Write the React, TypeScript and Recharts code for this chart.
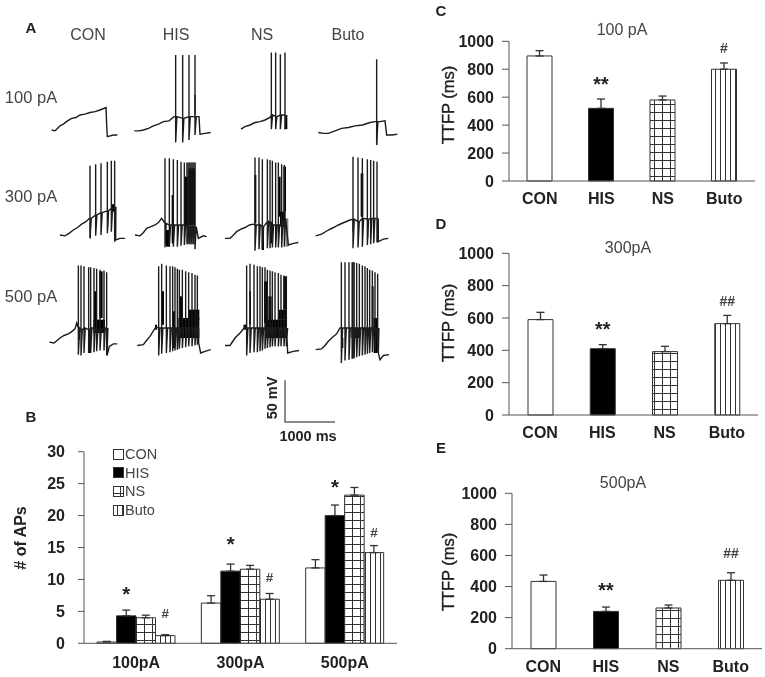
// Whole-cell recordings and summary bars (panels A-E)
import { BarChart, Bar, Cell, ErrorBar, LabelList, Legend, Line, LineChart, ReferenceArea, XAxis, YAxis } from "recharts";

const SANS = '"Liberation Sans", Arial, sans-serif';
const AXIS = "#555";
const INK = "#222";
const BAR_EDGE = "#333";
const TRACE = "#1c1c1c";

const GROUPS = ["CON", "HIS", "NS", "Buto"];
const GROUP_FILLS = ["#fff", "#000", "url(#gridFill)", "url(#stripeFill)"];

// Panel B, number of APs
const CURRENTS = ["100pA", "300pA", "500pA"];
const AP_CON = [0.2, 6.3, 11.8];
const AP_HIS = [4.3, 11.3, 20];
const AP_NS = [4, 11.6, 23.2];
const AP_BUTO = [1.2, 6.9, 14.2];
const AP_CON_ERR = [0.1, 1.15, 1.3];
const AP_HIS_ERR = [0.9, 1.1, 1.65];
const AP_NS_ERR = [0.4, 0.6, 1.2];
const AP_BUTO_ERR = [0.15, 0.9, 1.1];
const AP_HIS_MARK_AT = [8.2, 16, 25];
const AP_BUTO_MARK_AT = [4.7, 10.4, 17.4];

// Panels C-E, TTFP
const TTFP_TICKS = [0, 200, 400, 600, 800, 1000];
const TTFP_100 = [895, 520, 580, 800];
const TTFP_100_ERR = [38, 67, 28, 45];
const TTFP_100_MARKS = ["", "**", "", "#"];
const TTFP_100_MARK_AT = [0, 716, 0, 954];
const TTFP_300 = [590, 410, 392, 565];
const TTFP_300_ERR = [45, 25, 33, 51];
const TTFP_300_MARKS = ["", "**", "", "##"];
const TTFP_300_MARK_AT = [0, 548, 0, 703];
const TTFP_500 = [433, 240, 262, 440];
const TTFP_500_ERR = [41, 28, 19, 49];
const TTFP_500_MARKS = ["", "**", "", "##"];
const TTFP_500_MARK_AT = [0, 395, 0, 613];

// Panel A recordings: ramp and tail are [ms, mV], spikes are [ms, peak, trough, plateau], blobs are [ms1, ms2, mV1, mV2]
const CON_100_RAMP = [[233, -56], [300, -57], [333, -55], [400, -51], [467, -49], [550, -45], [633, -42], [720, -41], [800, -38], [900, -37], [1000, -35], [1100, -34], [1200, -32], [1320, -29], [1333, -50], [1347, -64], [1467, -62], [1547, -62]];
const HIS_100_RAMP = [[87, -57], [180, -57], [267, -56], [370, -54], [467, -51], [570, -49], [667, -46], [780, -45], [880, -40]];
const HIS_100_SPIKES = [[913, 34, -71, -40], [1053, 34, -71, -42], [1180, 34, -68, -40], [1300, 34, -62, -40]];
const HIS_100_TAIL = [[1380, -40], [1400, -61], [1500, -60], [1613, -59]];
const HIS_100_BLOBS = [[1290, 1313, -14, -38]];
const NS_100_RAMP = [[520, -55], [600, -52], [700, -50], [800, -47], [900, -46], [1000, -44], [1100, -41]];
const NS_100_SPIKES = [[1127, 37, -55, -38], [1213, 37, -55, -40], [1307, 35, -55, -38], [1400, 37, -55, -38]];
const NS_100_BLOBS = [[1395, 1447, -38, -55]];
const BUTO_100_RAMP = [[267, -59], [370, -60], [467, -60], [600, -57], [733, -54], [870, -53], [1000, -51], [1150, -50], [1300, -47], [1400, -46]];
const BUTO_100_SPIKES = [[1433, 29, -74, -46]];
const BUTO_100_TAIL = [[1500, -46], [1600, -45], [1633, -62], [1750, -62], [1847, -61]];
const BUTO_100_BLOBS = [[1425, 1445, -54, -74]];

const CON_300_RAMP = [[400, -62], [500, -63], [580, -60], [667, -56], [750, -53], [833, -49], [920, -46], [987, -42]];
const CON_300_SPIKES = [[1000, 21, -66, -42], [1113, 23, -63, -38], [1220, 24, -62, -35], [1347, 26, -60, -33], [1427, 27, -58, -30], [1493, 27, -70, -28]];
const CON_300_TAIL = [[1513, -68], [1600, -66], [1700, -66]];
const CON_300_BLOBS = [[995, 1020, -46, -66], [1340, 1365, -33, -52], [1430, 1490, -25, -34]];
const HIS_300_RAMP = [[100, -62], [200, -63], [270, -59], [333, -54], [420, -52], [500, -50], [570, -47], [633, -42]];
const HIS_300_SPIKES = [[700, 30, -77, -48], [787, 30, -76, -50], [867, 29, -76, -50], [947, 28, -76, -50], [1020, 26, -75, -50], [1087, 25, -74, -50], [1140, 25, -73, -52], [1180, 25, -73, -52], [1220, 25, -73, -52], [1260, 25, -73, -52], [1300, 25, -79, -52]];
const HIS_300_TAIL = [[1367, -66], [1467, -63], [1533, -64]];
const HIS_300_BLOBS = [[720, 800, -56, -76], [833, 880, -14, -72], [1100, 1167, 8, -52], [1167, 1300, 18, -50]];
const HIS_300_GREY = [[1133, 1313, 25, -73]];
const NS_300_RAMP = [[200, -66], [300, -66], [370, -62], [433, -58], [520, -55], [600, -53], [690, -50], [767, -49]];
const NS_300_SPIKES = [[800, 31, -81, -50], [880, 31, -79, -50], [947, 29, -79, -52], [1047, 29, -78, -46], [1100, 28, -78, -48], [1147, 27, -77, -50], [1213, 25, -77, -50], [1267, 25, -77, -50], [1333, 23, -77, -48], [1387, 22, -76, -42]];
const NS_300_TAIL = [[1467, -74], [1567, -72], [1667, -71]];
const NS_300_BLOBS = [[787, 827, 10, -48], [1267, 1313, 8, -40], [1300, 1413, -34, -52], [1367, 1420, 20, -34], [933, 980, -52, -80], [1100, 1147, -46, -72]];
const NS_300_GREY = [[1413, 1467, -42, -76]];
const BUTO_300_RAMP = [[213, -63], [333, -61], [467, -56], [570, -53], [667, -50], [780, -47], [900, -44]];
const BUTO_300_SPIKES = [[960, 32, -78, -43], [1060, 31, -77, -46], [1147, 30, -76, -42], [1247, 29, -74, -43], [1313, 28, -73, -42], [1373, 27, -72, -42], [1440, 26, -71, -42]];
const BUTO_300_TAIL = [[1467, -70], [1567, -67], [1667, -66]];
const BUTO_300_BLOBS = [[1113, 1167, 12, -40], [950, 975, -44, -58], [1240, 1265, -44, -66], [1365, 1385, -44, -70]];

const CON_500_RAMP = [[187, -61], [280, -62], [340, -59], [400, -56], [480, -53], [567, -51], [640, -48], [700, -45], [733, -38]];
const CON_500_SPIKES = [[767, 31, -76, -44], [820, 31, -77, -46], [880, 30, -74, -44], [973, 29, -74, -46], [1013, 29, -74, -44], [1080, 28, -73, -44], [1133, 27, -72, -46], [1200, 26, -71, -46], [1280, 25, -71, -44], [1333, 23, -77, -44]];
const CON_500_TAIL = [[1340, -77], [1387, -66], [1467, -63], [1547, -63]];
const CON_500_BLOBS = [[1080, 1120, 0, -40], [1187, 1253, 24, -32], [1067, 1300, -34, -50], [767, 800, -46, -58], [973, 1013, -50, -74]];
const HIS_500_RAMP = [[147, -65], [267, -64], [330, -59], [400, -54], [460, -48], [520, -43]];
const HIS_500_SPIKES = [[573, 30, -77, -44], [633, 33, -75, -44], [727, 31, -74, -44], [800, 30, -73, -44], [853, 30, -72, -44], [900, 29, -71, -44], [947, 27, -70, -44], [987, 26, -69, -44], [1047, 26, -68, -44], [1113, 24, -67, -44], [1173, 23, -66, -44], [1240, 22, -66, -44], [1300, 20, -65, -44], [1347, 19, -64, -44]];
const HIS_500_TAIL = [[1373, -62], [1413, -74], [1500, -72], [1613, -70]];
const HIS_500_BLOBS = [[640, 680, 0, -40], [853, 900, -24, -68], [987, 1053, -6, -46], [967, 1387, -32, -56], [1167, 1387, -22, -34], [500, 540, -40, -46]];
const NS_500_RAMP = [[200, -65], [300, -65], [400, -56], [500, -50], [600, -43]];
const NS_500_SPIKES = [[633, 31, -77, -44], [700, 33, -74, -44], [780, 32, -73, -44], [847, 30, -73, -44], [900, 30, -72, -44], [947, 29, -71, -44], [1000, 29, -69, -44], [1047, 26, -68, -44], [1100, 25, -67, -44], [1147, 24, -66, -44], [1200, 23, -66, -44], [1267, 22, -66, -44], [1320, 20, -66, -44], [1380, 19, -66, -44], [1427, 18, -66, -44]];
const NS_500_TAIL = [[1440, -56], [1453, -74], [1567, -72], [1680, -71]];
const NS_500_BLOBS = [[687, 720, 0, -40], [980, 1047, 12, -38], [1067, 1133, -6, -54], [1000, 1433, -34, -56], [1267, 1433, -22, -34], [1367, 1433, 18, -22], [570, 620, -40, -46]];
const BUTO_500_RAMP = [[213, -70], [333, -69], [400, -65], [467, -60], [550, -55], [633, -51], [700, -44]];
const BUTO_500_SPIKES = [[727, 35, -86, -44], [800, 35, -83, -44], [880, 35, -82, -44], [947, 35, -81, -44], [980, 35, -80, -44], [1033, 34, -79, -44], [1087, 33, -78, -44], [1147, 31, -77, -44], [1200, 30, -76, -44], [1247, 28, -75, -44], [1293, 26, -74, -44], [1347, 25, -73, -44], [1400, 23, -73, -44], [1453, 21, -72, -44]];
const BUTO_500_TAIL = [[1467, -74], [1500, -82], [1567, -77], [1680, -76]];
const BUTO_500_BLOBS = [[733, 767, -56, -68], [1333, 1373, 6, -46], [1373, 1453, -32, -74], [927, 1100, -44, -56]];
const BUTO_500_GREY = [[927, 1000, 35, -81]];

const SCALE_BAR = [[400, 30], [400, -20], [1400, -20]];

const TRACES = [
  { left: 40, top: 50, ramp: CON_100_RAMP },
  { left: 130, top: 50, ramp: HIS_100_RAMP, spikes: HIS_100_SPIKES, tail: HIS_100_TAIL, blobs: HIS_100_BLOBS },
  { left: 215, top: 50, ramp: NS_100_RAMP, spikes: NS_100_SPIKES, blobs: NS_100_BLOBS },
  { left: 305, top: 50, ramp: BUTO_100_RAMP, spikes: BUTO_100_SPIKES, tail: BUTO_100_TAIL, blobs: BUTO_100_BLOBS },
  { left: 40, top: 150, ramp: CON_300_RAMP, spikes: CON_300_SPIKES, tail: CON_300_TAIL, blobs: CON_300_BLOBS },
  { left: 130, top: 150, ramp: HIS_300_RAMP, spikes: HIS_300_SPIKES, tail: HIS_300_TAIL, blobs: HIS_300_BLOBS, grey: HIS_300_GREY },
  { left: 215, top: 150, ramp: NS_300_RAMP, spikes: NS_300_SPIKES, tail: NS_300_TAIL, blobs: NS_300_BLOBS, grey: NS_300_GREY },
  { left: 305, top: 150, ramp: BUTO_300_RAMP, spikes: BUTO_300_SPIKES, tail: BUTO_300_TAIL, blobs: BUTO_300_BLOBS },
  { left: 40, top: 258, ramp: CON_500_RAMP, spikes: CON_500_SPIKES, tail: CON_500_TAIL, blobs: CON_500_BLOBS },
  { left: 130, top: 258, ramp: HIS_500_RAMP, spikes: HIS_500_SPIKES, tail: HIS_500_TAIL, blobs: HIS_500_BLOBS },
  { left: 215, top: 258, ramp: NS_500_RAMP, spikes: NS_500_SPIKES, tail: NS_500_TAIL, blobs: NS_500_BLOBS },
  { left: 305, top: 258, ramp: BUTO_500_RAMP, spikes: BUTO_500_SPIKES, tail: BUTO_500_TAIL, blobs: BUTO_500_BLOBS, grey: BUTO_500_GREY },
];

function tracePoints(trace: any) {
  const points = trace.ramp.map(([t, v]: number[]) => ({ t, v }));
  (trace.spikes || []).forEach(([t, peak, trough, plateau]: number[]) => {
    points.push({ t, v: plateau }, { t, v: peak }, { t, v: trough }, { t: t + 25, v: plateau });
  });
  (trace.tail || []).forEach(([t, v]: number[]) => points.push({ t, v }));
  return points;
}

function Recording({ trace }: { trace: any }) {
  return (
    <div style={{ position: "absolute", left: trace.left, top: trace.top }}>
      <LineChart width={100} height={120} data={tracePoints(trace)} margin={{ top: 0, right: 0, bottom: 0, left: 0 }}>
        <XAxis type="number" dataKey="t" domain={[0, 2000]} hide />
        <YAxis type="number" domain={[-104, 40]} hide />
        {(trace.grey || []).map(([x1, x2, y1, y2]: number[], i: number) => (
          <ReferenceArea key={`g${i}`} x1={x1} x2={x2} y1={y1} y2={y2} fill="#8a8a8a" fillOpacity={1} stroke="none" />
        ))}
        {(trace.blobs || []).map(([x1, x2, y1, y2]: number[], i: number) => (
          <ReferenceArea key={`b${i}`} x1={x1} x2={x2} y1={y1} y2={y2} fill="#000" fillOpacity={1} stroke="none" />
        ))}
        <Line dataKey="v" stroke={TRACE} strokeWidth={1.4} dot={false} isAnimationActive={false} />
      </LineChart>
    </div>
  );
}

function Caption({ x, y, size = 16, bold = false, color = "#444", rotate = 0, heavy = false, children }: any) {
  return (
    <div
      style={{
        position: "absolute",
        left: x,
        top: y,
        transform: `translate(-50%, -50%) rotate(${rotate}deg)`,
        fontFamily: SANS,
        fontSize: size,
        fontWeight: bold ? 700 : 400,
        color,
        whiteSpace: "nowrap",
        WebkitTextStroke: heavy ? "0.35px #222" : undefined,
      }}
    >
      {children}
    </div>
  );
}

// draws a significance mark at its own value on the y axis, above the bar it belongs to
function markLabel(values: number[], levels: number[], size: number) {
  return (props: any) => {
    const box = props.viewBox || props;
    const { index, value } = props;
    if (!value) return null;
    const isStar = value[0] === "*";
    const fontSize = isStar ? size * 1.4 : size;
    const barHeight = Math.abs(box.height);
    const perUnit = barHeight / values[index];
    const y = box.y + barHeight - levels[index] * perUnit;
    return (
      <text
        x={box.x + box.width / 2}
        y={y}
        dy={isStar ? fontSize * 0.5 : fontSize * 0.35}
        textAnchor="middle"
        fontFamily={SANS}
        fontSize={fontSize}
        fontWeight={700}
        fill={isStar ? INK : "#444"}
      >
        {value}
      </text>
    );
  };
}

function TtfpPanel({ top, height, margin, values, errors, marks, markAt }: any) {
  const rows = GROUPS.map((group, i) => ({ group, value: values[i], err: [0, errors[i]], mark: marks[i] }));
  return (
    <div style={{ position: "absolute", left: 430, top }}>
      <BarChart width={335} height={height} data={rows} margin={margin}>
        <XAxis
          dataKey="group"
          height={24}
          tickSize={0}
          tickMargin={12}
          stroke={AXIS}
          tick={{ fontFamily: SANS, fontSize: 16, fontWeight: 700, fill: INK }}
        />
        <YAxis
          width={60}
          domain={[0, 1000]}
          ticks={TTFP_TICKS}
          interval={0}
          tickSize={7}
          tickMargin={8}
          stroke={AXIS}
          tick={{ fontFamily: SANS, fontSize: 16, fontWeight: 700, fill: INK }}
        />
        <Bar dataKey="value" barSize={25} stroke={BAR_EDGE} strokeWidth={1} isAnimationActive={false}>
          {rows.map((row, i) => (
            <Cell key={row.group} fill={GROUP_FILLS[i]} />
          ))}
          <ErrorBar dataKey="err" direction="y" width={4} stroke={BAR_EDGE} strokeWidth={1.3} isAnimationActive={false} />
          <LabelList dataKey="mark" content={markLabel(values, markAt, 14) as any} />
        </Bar>
      </BarChart>
    </div>
  );
}

function ApLegend({ payload }: any) {
  const ordered = [...(payload || [])].sort((a: any, b: any) => GROUPS.indexOf(a.value) - GROUPS.indexOf(b.value));
  return (
    <div style={{ fontFamily: SANS, fontSize: 14.5, color: "#444" }}>
      {ordered.map((entry: any) => (
        <div key={entry.value} style={{ display: "flex", alignItems: "center", height: 18.6 }}>
          <svg width={13} height={13}>
            <rect x={1.5} y={1.5} width={10} height={10} fill={GROUP_FILLS[GROUPS.indexOf(entry.value)]} stroke={BAR_EDGE} />
          </svg>
          <span>{entry.value}</span>
        </div>
      ))}
    </div>
  );
}

function ApPanel() {
  const rows = CURRENTS.map((current, i) => ({
    current,
    CON: AP_CON[i],
    HIS: AP_HIS[i],
    NS: AP_NS[i],
    Buto: AP_BUTO[i],
    conErr: [0, AP_CON_ERR[i]],
    hisErr: [0, AP_HIS_ERR[i]],
    nsErr: [0, AP_NS_ERR[i]],
    butoErr: [0, AP_BUTO_ERR[i]],
    star: "*",
    hash: "#",
  }));
  const errorKeys = ["conErr", "hisErr", "nsErr", "butoErr"];
  return (
    <div style={{ position: "absolute", left: 0, top: 400 }}>
      <BarChart width={420} height={277} data={rows} barSize={19.5} barGap={0} margin={{ top: 51.7, right: 23, bottom: 9.7, left: 24 }}>
        <XAxis
          dataKey="current"
          height={24}
          tickSize={0}
          tickMargin={13}
          stroke={AXIS}
          tick={{ fontFamily: SANS, fontSize: 16, fontWeight: 700, fill: INK }}
        />
        <YAxis
          width={60}
          domain={[0, 30]}
          ticks={[0, 5, 10, 15, 20, 25, 30]}
          interval={0}
          tickSize={6}
          tickMargin={13}
          stroke={AXIS}
          tick={{ fontFamily: SANS, fontSize: 16, fontWeight: 700, fill: INK }}
        />
        <Legend layout="vertical" align="center" verticalAlign="middle" wrapperStyle={{ left: 112, top: 45, width: 80 }} content={<ApLegend />} />
        {GROUPS.map((group, i) => (
          <Bar key={group} dataKey={group} fill={GROUP_FILLS[i]} stroke={BAR_EDGE} strokeWidth={1} isAnimationActive={false}>
            <ErrorBar dataKey={errorKeys[i]} direction="y" width={4} stroke={BAR_EDGE} strokeWidth={1.3} isAnimationActive={false} />
            {group === "HIS" && <LabelList dataKey="star" content={markLabel(AP_HIS, AP_HIS_MARK_AT, 14.5) as any} />}
            {group === "Buto" && <LabelList dataKey="hash" content={markLabel(AP_BUTO, AP_BUTO_MARK_AT, 13.5) as any} />}
          </Bar>
        ))}
      </BarChart>
    </div>
  );
}

export default function App() {
  return (
    <div style={{ position: "absolute", left: 0, top: 0, width: 765, height: 677, background: "#fff", overflow: "hidden", filter: "blur(0.35px)" }}>
      <svg style={{ position: "absolute", width: 0, height: 0 }}>
        <defs>
          <pattern id="gridFill" width={8} height={8} patternUnits="userSpaceOnUse">
            <rect width={8} height={8} fill="#fff" />
            <path d="M0 0.5H8M0.5 0V8" stroke={BAR_EDGE} strokeWidth={1} />
          </pattern>
          <pattern id="stripeFill" width={5} height={5} patternUnits="userSpaceOnUse">
            <rect width={5} height={5} fill="#fff" />
            <path d="M0.5 0V5" stroke={BAR_EDGE} strokeWidth={1} />
          </pattern>
        </defs>
      </svg>

      <Caption x={31} y={27} size={15} bold color={INK}>A</Caption>
      <Caption x={88} y={35}>CON</Caption>
      <Caption x={176} y={35}>HIS</Caption>
      <Caption x={262} y={35}>NS</Caption>
      <Caption x={348} y={35}>Buto</Caption>
      <Caption x={31} y={97} size={16.5}>100 pA</Caption>
      <Caption x={31} y={196} size={16.5}>300 pA</Caption>
      <Caption x={31} y={296} size={16.5}>500 pA</Caption>

      {TRACES.map((trace) => (
        <Recording key={`${trace.left}-${trace.top}`} trace={trace} />
      ))}

      <div style={{ position: "absolute", left: 265, top: 372 }}>
        <LineChart width={100} height={120} data={SCALE_BAR.map(([t, v]) => ({ t, v }))} margin={{ top: 0, right: 0, bottom: 0, left: 0 }}>
          <XAxis type="number" dataKey="t" domain={[0, 2000]} hide />
          <YAxis type="number" domain={[-104, 40]} hide />
          <Line dataKey="v" stroke="#666" strokeWidth={1.5} dot={false} isAnimationActive={false} />
        </LineChart>
      </div>
      <Caption x={272} y={398} size={14.5} bold color={INK} rotate={-90}>50 mV</Caption>
      <Caption x={308} y={436} size={14.5} bold color={INK}>1000 ms</Caption>

      <Caption x={31} y={416} size={15} bold color={INK}>B</Caption>
      <ApPanel />
      <Caption x={21} y={538} size={16} bold color={INK} rotate={-90}># of APs</Caption>

      <Caption x={441} y={10} size={15} bold color={INK}>C</Caption>
      <Caption x={622} y={30}>100 pA</Caption>
      <TtfpPanel top={0} height={220} margin={{ top: 41.3, right: 10, bottom: 15, left: 19 }} values={TTFP_100} errors={TTFP_100_ERR} marks={TTFP_100_MARKS} markAt={TTFP_100_MARK_AT} />
      <Caption x={448} y={105} size={16.5} color={INK} rotate={-90} heavy>TTFP (ms)</Caption>

      <Caption x={441} y={223} size={15} bold color={INK}>D</Caption>
      <Caption x={628} y={248}>300pA</Caption>
      <TtfpPanel top={225} height={225} margin={{ top: 28.3, right: 7, bottom: 11, left: 19 }} values={TTFP_300} errors={TTFP_300_ERR} marks={TTFP_300_MARKS} markAt={TTFP_300_MARK_AT} />
      <Caption x={448} y={323} size={16.5} color={INK} rotate={-90} heavy>TTFP (ms)</Caption>

      <Caption x={441} y={447} size={15} bold color={INK}>E</Caption>
      <Caption x={623} y={483}>500pA</Caption>
      <TtfpPanel top={450} height={227} margin={{ top: 43.3, right: 3, bottom: 4.3, left: 22 }} values={TTFP_500} errors={TTFP_500_ERR} marks={TTFP_500_MARKS} markAt={TTFP_500_MARK_AT} />
      <Caption x={448} y={572} size={16.5} color={INK} rotate={-90} heavy>TTFP (ms)</Caption>
    </div>
  );
}
